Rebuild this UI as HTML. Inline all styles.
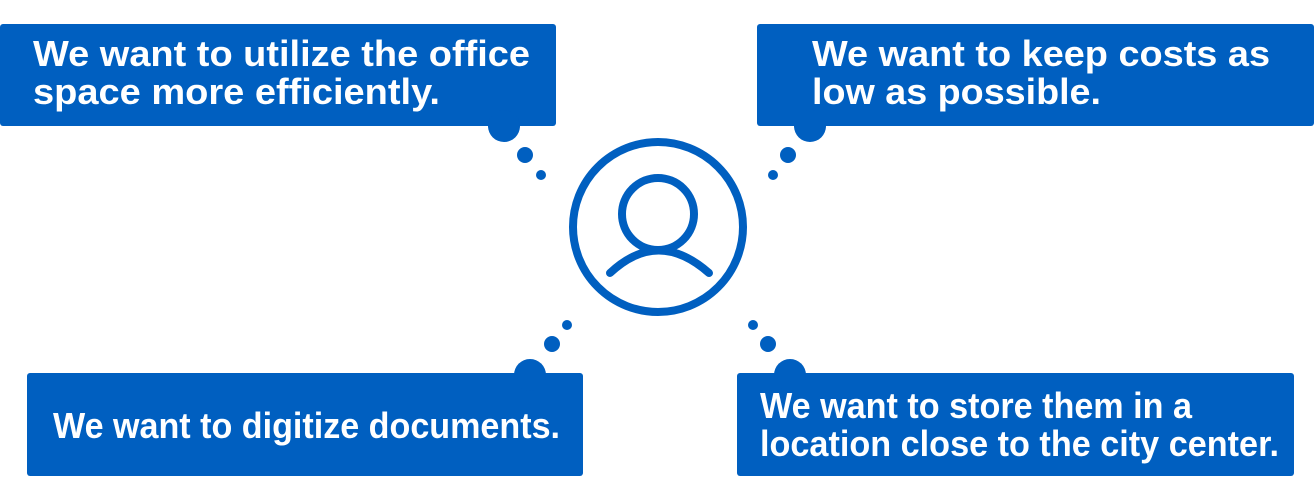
<!DOCTYPE html>
<html><head><style>
html,body{margin:0;padding:0;background:#fff;width:1314px;height:500px;overflow:hidden}
svg text{font-family:"Liberation Sans",sans-serif;font-weight:bold;fill:#fff;font-size:36px}
</style></head><body>
<svg width="1314" height="500" viewBox="0 0 1314 500" xmlns="http://www.w3.org/2000/svg">
<g fill="#005fc0">
<rect x="0" y="24" width="556" height="102" rx="3"/>
<circle cx="504" cy="126" r="16"/><circle cx="525" cy="155" r="8"/><circle cx="541" cy="175" r="5"/>
<rect x="757" y="24" width="557" height="102" rx="3"/>
<circle cx="810" cy="126" r="16"/><circle cx="788" cy="155" r="8"/><circle cx="773" cy="175" r="5"/>
<rect x="27" y="373" width="556" height="103" rx="3"/>
<circle cx="530" cy="375" r="16"/><circle cx="552" cy="344" r="8"/><circle cx="567" cy="325" r="5"/>
<rect x="737" y="373" width="557" height="103" rx="3"/>
<circle cx="790" cy="375" r="16"/><circle cx="768" cy="344" r="8"/><circle cx="753" cy="325" r="5"/>
</g>
<g fill="none" stroke="#005fc0" stroke-width="8" stroke-linecap="round">
<circle cx="658" cy="227" r="85"/>
<circle cx="658" cy="214" r="36"/>
<path d="M610 273 Q658 228 709 273"/>
</g>
<text x="33" y="66" textLength="497" lengthAdjust="spacingAndGlyphs">We want to utilize the office</text>
<text x="33" y="104" textLength="407" lengthAdjust="spacingAndGlyphs">space more efficiently.</text>
<text x="812" y="66" textLength="458" lengthAdjust="spacingAndGlyphs">We want to keep costs as</text>
<text x="812" y="104" textLength="289" lengthAdjust="spacingAndGlyphs">low as possible.</text>
<text x="53" y="438" textLength="507" lengthAdjust="spacingAndGlyphs">We want to digitize documents.</text>
<text x="760" y="418" textLength="432" lengthAdjust="spacingAndGlyphs">We want to store them in a</text>
<text x="760" y="456" textLength="519" lengthAdjust="spacingAndGlyphs">location close to the city center.</text>
</svg>
</body></html>
